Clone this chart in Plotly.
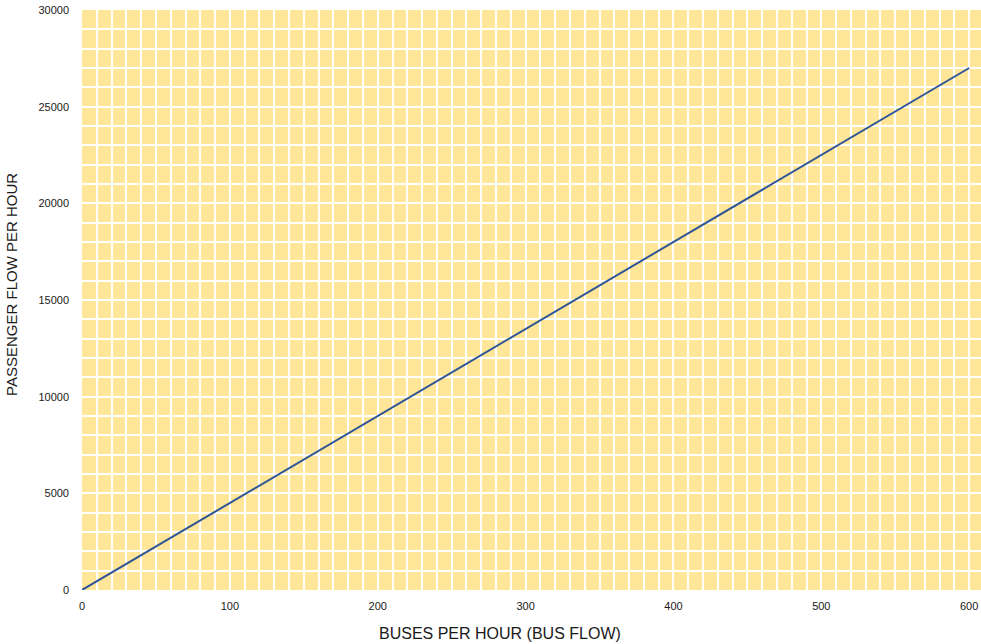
import plotly.graph_objects as go

buses_per_hour = [0, 100, 200, 300, 400, 500, 600]
passenger_flow = [0, 4500, 9000, 13500, 18000, 22500, 27000]
x_ticks = [0, 100, 200, 300, 400, 500, 600]
y_ticks = [0, 5000, 10000, 15000, 20000, 25000, 30000]
x_title = "BUSES PER HOUR (BUS FLOW)"
y_title = "PASSENGER FLOW PER HOUR"

fig = go.Figure()
fig.add_trace(go.Scatter(
    x=buses_per_hour, y=passenger_flow, mode="lines",
    line=dict(color="#2F5597", width=2), showlegend=False,
))

font_family = "Liberation Sans, Arial, sans-serif"
fig.update_layout(
    width=981, height=644,
    margin=dict(l=82, r=0, t=10, b=54, autoexpand=False),
    paper_bgcolor="white",
    plot_bgcolor="#FFE699",
    font=dict(family=font_family, color="#1a1a1a", size=11),
    xaxis=dict(
        range=[0, 608], tickvals=x_ticks, ticktext=[str(v) for v in x_ticks],
        ticks="", showline=False, automargin=False, ticklabelstandoff=8,
        showgrid=True, gridcolor="white", gridwidth=1.5, zeroline=False,
        minor=dict(dtick=10, showgrid=True, gridcolor="white", gridwidth=1.5),
        tickfont=dict(size=11),
    ),
    yaxis=dict(
        range=[0, 30000], tickvals=y_ticks, ticktext=[str(v) for v in y_ticks],
        ticks="", showline=False, automargin=False, ticklabelstandoff=12,
        showgrid=True, gridcolor="white", gridwidth=1.5, zeroline=False,
        minor=dict(dtick=1000, showgrid=True, gridcolor="white", gridwidth=1.5),
        tickfont=dict(size=11),
    ),
    annotations=[
        dict(text=x_title, xref="paper", yref="paper", x=0.4651, y=0,
             yshift=-43, xanchor="center", yanchor="middle", showarrow=False,
             font=dict(size=16)),
        dict(text=y_title, xref="paper", yref="paper", x=0, y=0.526,
             xshift=-70, textangle=-90, xanchor="center", yanchor="middle",
             showarrow=False, font=dict(size=15)),
    ],
)
fig.write_html(
    "out.html",
    config={"displayModeBar": False},
    post_script="document.body.style.margin='0';document.body.style.overflow='hidden';",
)
